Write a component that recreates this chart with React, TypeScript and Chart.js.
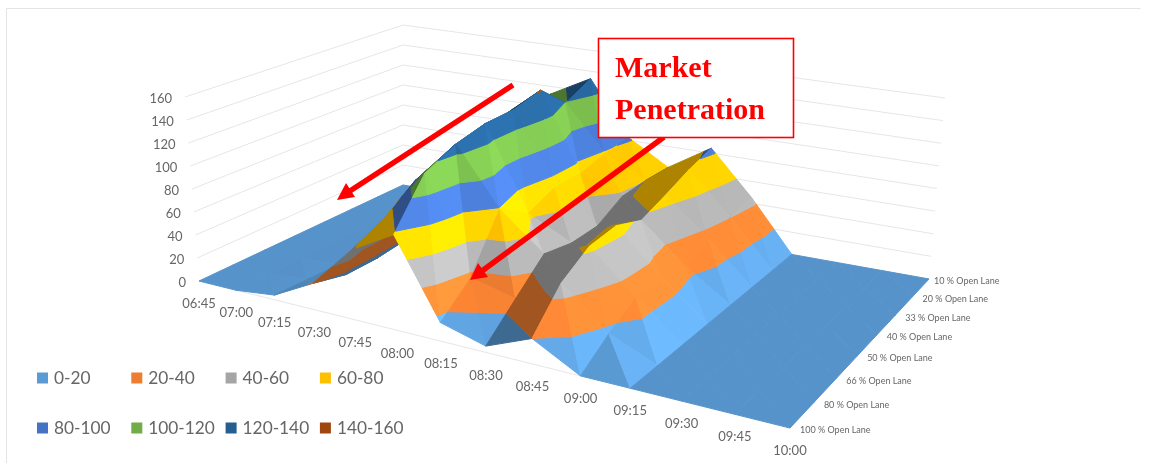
import React, { useEffect, useRef } from "react";
import { Chart, registerables } from "chart.js";
Chart.register(...registerables);

const timeLabels = ["06:45","07:00","07:15","07:30","07:45","08:00","08:15","08:30","08:45","09:00","09:15","09:30","09:45","10:00"];
const laneLabels = ["100 % Open Lane","80 % Open Lane","66 % Open Lane","50 % Open Lane","40 % Open Lane","33 % Open Lane","20 % Open Lane","10 % Open Lane"];
const valueTicks = [0,20,40,60,80,100,120,140,160];
const bandLabels = ["0-20","20-40","40-60","60-80","80-100","100-120","120-140","140-160"];
const bandColors = ["#5B9BD5","#ED7D31","#A5A5A5","#FFC000","#4472C4","#70AD47","#255E91","#9E480E"];

const lane100 = [0,0,4,22,58,78,15,5,20,0,0,0,0,0];
const lane80 = [0,0,3,15,70,115,36,27,48,16,0,0,0,0];
const lane66 = [0,0,2,15,89,127,79,49,63,29,0,0,0,0];
const lane50 = [0,0,2,18,98,133,62,44,66,30,0,0,0,0];
const lane40 = [0,0,2,20,104,134,72,45,57,25,0,0,0,0];
const lane33 = [0,0,2,22,110,141,72,58,66,34,0,0,0,0];
const lane20 = [0,0,2,22,112,119,78,60,76,40,0,0,0,0];
const lane10 = [0,0,2,22,112,132,82,60,84,45,0,0,0,0];
const surface = [lane100,lane80,lane66,lane50,lane40,lane33,lane20,lane10];

const W = 1150, H = 463;
const NI = timeLabels.length - 1, NK = laneLabels.length - 1;

type P3 = { i: number; k: number; z: number };
function project(i: number, k: number, z: number) {
  const u0 = i / NI;
  const u = u0 + 0.06 * u0 * (1 - u0);
  const v = k / NK;
  const w = 1 - 0.2381 * u + 0.1865 * v;
  const fx = (402.9 * u + 279.2 * v + 199) / w;
  const fy = (45.1 * u - 61.5 * v + 281) / w;
  const dy = (1-u)*(1-v)*184 + (1-u)*v*160 + u*v*181 + u*(1-v)*215;
  const dx = (1-u)*(1-v)*-14 + (1-u)*v*0 + u*v*16 + u*(1-v)*2;
  return { x: fx + dx * z / 160, y: fy - dy * z / 160 };
}
function clip(poly: P3[], lim: number, keepAbove: boolean): P3[] {
  const out: P3[] = [];
  for (let n = 0; n < poly.length; n++) {
    const a = poly[n], b = poly[(n + 1) % poly.length];
    const ina = keepAbove ? a.z >= lim : a.z <= lim;
    const inb = keepAbove ? b.z >= lim : b.z <= lim;
    if (ina) out.push(a);
    if (ina !== inb) {
      const t = (lim - a.z) / (b.z - a.z);
      out.push({ i: a.i + (b.i - a.i) * t, k: a.k + (b.k - a.k) * t, z: lim });
    }
  }
  return out;
}
function shade(hex: string, f: number) {
  const n = parseInt(hex.slice(1), 16);
  const c = [(n >> 16) & 255, (n >> 8) & 255, n & 255].map((v) => Math.min(255, Math.round(v * f)));
  return `rgb(${c[0]},${c[1]},${c[2]})`;
}
function polyDataset(pts: { x: number; y: number }[], color: string) {
  return {
    data: [...pts, pts[0]], showLine: true, fill: "shape", tension: 0,
    backgroundColor: color, borderColor: color, borderWidth: 1, pointRadius: 0,
  };
}
function lineDataset(pts: { x: number; y: number }[], color: string) {
  return { data: pts, showLine: true, fill: false, tension: 0, borderColor: color, borderWidth: 1, pointRadius: 0 };
}
function triangle(tri: P3[], zi: number, zk: number, out: any[]) {
  const a = project(tri[0].i, tri[0].k, tri[0].z), b = project(tri[1].i, tri[1].k, tri[1].z), c = project(tri[2].i, tri[2].k, tri[2].z);
  const front = (b.x - a.x) * (c.y - a.y) - (b.y - a.y) * (c.x - a.x) > 0;
  const s = 1 / 30;
  const len = Math.hypot(zi * s, zk * s, 1);
  const steep = Math.min(1, Math.hypot(zi, zk) / 20);
  const vk = (tri[0].k + tri[1].k + tri[2].k) / 3 / NK;
  const firstI = Math.min(tri[0].i, tri[1].i, tri[2].i);
  let f: number;
  if (!front || (zi >= 6 && firstI >= 3)) f = 0.68;
  else if (zi >= 6) f = 0.86;
  else f = Math.min(1.3, Math.max(0.84, 0.95 + 0.22 * (-zi * s / len) + 0.14 * (-zk * s / len) + 0.14 * (1 - vk) * steep));
  for (let b2 = 0; b2 < bandColors.length; b2++) {
    let p = clip(tri, b2 * 20, true);
    if (p.length >= 3) p = clip(p, (b2 + 1) * 20, false);
    if (p.length >= 3) out.push(polyDataset(p.map((q) => project(q.i, q.k, q.z)), shade(bandColors[b2], f)));
  }
}
function buildDatasets() {
  const out: any[] = [];
  const grid = "#e6e6e6";
  valueTicks.forEach((z) => {
    out.push(lineDataset([project(0,0,z), project(0,NK,z), project(NI,NK,z)], grid));
  });
  out.push(lineDataset([project(0,0,0), project(NI,0,0)], grid));
  for (let i = 0; i < NI; i++) {
    for (let k = NK - 1; k >= 0; k--) {
      const z00 = surface[k][i], z01 = surface[k+1][i], z10 = surface[k][i+1], z11 = surface[k+1][i+1];
      triangle([{i,k,z:z00},{i,k:k+1,z:z01},{i:i+1,k,z:z10}], z10 - z00, z01 - z00, out);
      triangle([{i,k:k+1,z:z01},{i:i+1,k:k+1,z:z11},{i:i+1,k,z:z10}], z11 - z01, z11 - z10, out);
    }
  }
  return out.reverse();
}

const overlay = {
  id: "overlay",
  afterDatasetsDraw(chart: any) {
    const ctx: CanvasRenderingContext2D = chart.ctx;
    const sx = chart.scales.x, sy = chart.scales.y;
    const px = (x: number) => sx.getPixelForValue(x), py = (y: number) => sy.getPixelForValue(y);
    ctx.save();
    ctx.strokeStyle = "#e4e4e4"; ctx.lineWidth = 1;
    ctx.beginPath(); ctx.moveTo(6.5, H); ctx.lineTo(6.5, 8.5); ctx.lineTo(1140.5, 8.5); ctx.stroke();
    ctx.fillStyle = "#666666"; ctx.textBaseline = "middle";
    ctx.font = "13px Lato"; ctx.textAlign = "right";
    valueTicks.forEach((z) => { const p = project(0,0,z); ctx.fillText(String(z), px(p.x) - 13, py(p.y) + 1.5); });
    ctx.textAlign = "center";
    timeLabels.forEach((t, i) => { const p = project(i,0,0); ctx.fillText(t, px(p.x), py(p.y) + 23); });
    ctx.font = "9px Lato"; ctx.textAlign = "left";
    laneLabels.forEach((t, k) => { const p = project(NI,k,0); ctx.fillText(t, px(p.x) + (k === NK ? 5 : 10), py(p.y) + 2.5); });
    ctx.font = "17.3px Lato";
    bandLabels.forEach((t, n) => {
      const col = n % 4, row = n >> 2;
      const x = 37 + col * 94.3, y = 378 + row * 50;
      ctx.fillStyle = bandColors[n]; ctx.fillRect(x, y - 5.5, 11, 11);
      ctx.fillStyle = "#666666"; ctx.fillText(t, x + 17, y);
    });
    const arrow = (x0: number, y0: number, tx: number, ty: number, a: number, b: number, c: number, d: number) => {
      ctx.strokeStyle = "#ff0000"; ctx.fillStyle = "#ff0000"; ctx.lineWidth = 5.5;
      ctx.beginPath(); ctx.moveTo(x0, y0); ctx.lineTo((tx + (a + c) / 2) / 2, (ty + (b + d) / 2) / 2); ctx.stroke();
      ctx.beginPath(); ctx.moveTo(tx, ty); ctx.lineTo(a, b); ctx.lineTo(c, d); ctx.closePath(); ctx.fill();
    };
    arrow(513, 85, 337, 200, 346, 183, 355, 197);
    arrow(664, 137, 470, 280, 478, 263, 488, 277);
    ctx.fillStyle = "#ffffff"; ctx.fillRect(598, 38, 196, 100);
    ctx.strokeStyle = "#ff0000"; ctx.lineWidth = 1.6; ctx.strokeRect(598.5, 38.5, 195, 99);
    ctx.fillStyle = "#ff0000"; ctx.font = "bold 30px 'Liberation Serif'"; ctx.textAlign = "left"; ctx.textBaseline = "alphabetic";
    ctx.fillText("Market", 615, 77);
    ctx.fillText("Penetration", 615, 119);
    ctx.restore();
  },
};

export default function App() {
  const ref = useRef<HTMLCanvasElement>(null);
  useEffect(() => {
    document.body.style.margin = "0";
    const chart = new Chart(ref.current!, {
      type: "scatter",
      data: { datasets: buildDatasets() as any },
      options: {
        animation: false, responsive: false, events: [],
        layout: { padding: 0 },
        scales: {
          x: { type: "linear", min: 0, max: W, display: false },
          y: { type: "linear", min: 0, max: H, reverse: true, display: false },
        },
        plugins: { legend: { display: false }, tooltip: { enabled: false } },
      } as any,
      plugins: [overlay],
    });
    return () => chart.destroy();
  }, []);
  return <canvas ref={ref} width={W} height={H} style={{ display: "block", width: W, height: H, filter: "blur(0.4px)" }} />;
}
